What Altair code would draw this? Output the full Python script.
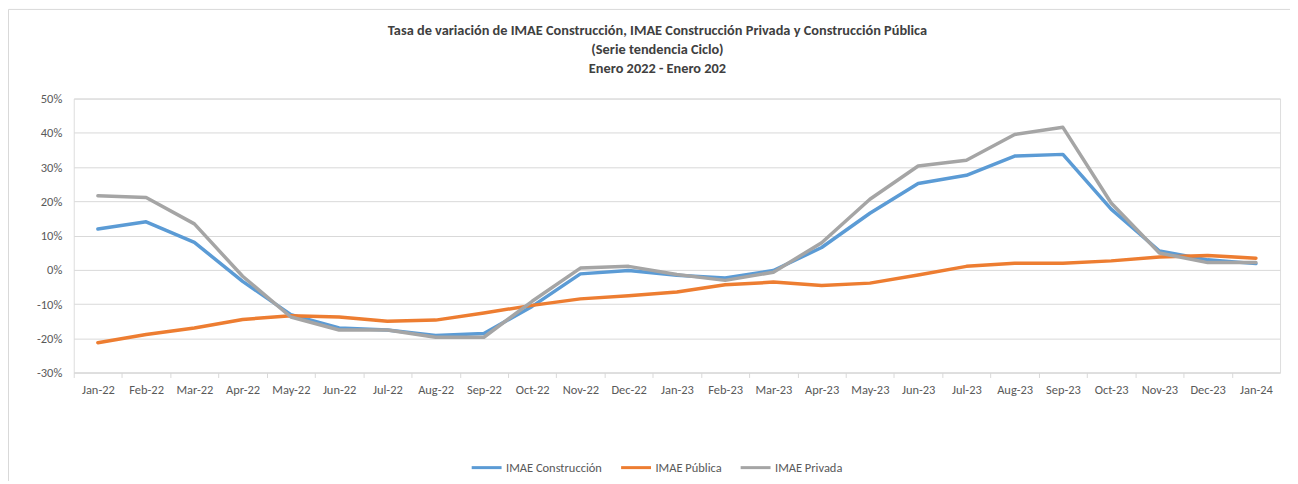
import altair as alt
import pandas as pd

months = ["Jan-22", "Feb-22", "Mar-22", "Apr-22", "May-22", "Jun-22", "Jul-22", "Aug-22",
          "Sep-22", "Oct-22", "Nov-22", "Dec-22", "Jan-23", "Feb-23", "Mar-23", "Apr-23",
          "May-23", "Jun-23", "Jul-23", "Aug-23", "Sep-23", "Oct-23", "Nov-23", "Dec-23", "Jan-24"]

construccion = [11.9, 14.0, 8.0, -3.4, -13.1, -17.0, -17.6, -19.2, -18.6, -10.7, -1.2, -0.2,
                -1.6, -2.4, -0.2, 6.5, 16.5, 25.2, 27.6, 33.2, 33.7, 17.7, 5.5, 2.9, 1.8]
publica = [-21.3, -18.9, -17.0, -14.5, -13.4, -13.8, -15.0, -14.7, -12.6, -10.4, -8.5, -7.6,
           -6.5, -4.4, -3.6, -4.6, -3.9, -1.5, 1.0, 1.9, 1.9, 2.6, 3.7, 4.2, 3.4]
privada = [21.6, 21.1, 13.4, -1.9, -13.8, -17.6, -17.6, -19.7, -19.7, -9.2, 0.5, 1.0,
           -1.4, -3.1, -0.7, 7.9, 20.6, 30.3, 32.0, 39.5, 41.6, 19.5, 4.9, 2.1, 2.1]

series_names = ["IMAE Construcción", "IMAE Pública", "IMAE Privada"]
series_colors = ["#5B9BD5", "#ED7D31", "#A5A5A5"]
y_ticks = [-30, -20, -10, 0, 10, 20, 30, 40, 50]

title_lines = ["Tasa de variación de IMAE Construcción, IMAE Construcción Privada y Construcción Pública",
               "(Serie tendencia Ciclo)",
               "Enero 2022 - Enero 202"]

rows = []
for name, vals in zip(series_names, [construccion, publica, privada]):
    for m, v in zip(months, vals):
        rows.append({"mes": m, "valor": v, "serie": name})
df = pd.DataFrame(rows)

FONT = "Carlito, Calibri, Liberation Sans, sans-serif"
W, H = 1211, 275
half_step = W / len(months) / 2
FS = 12.5

lines = alt.Chart(df).mark_line(strokeWidth=3.5, strokeJoin="round", strokeCap="round").encode(
    x=alt.X("mes:N", sort=months, title=None,
            scale=alt.Scale(type="point", padding=0.5),
            axis=alt.Axis(labelAngle=0, labelFontSize=FS, labelColor="#595959", labelFont=FONT,
                          tickColor="#D9D9D9", tickSize=5, domainColor="#D9D9D9",
                          tickOffset=-half_step, labelOffset=half_step, labelPadding=6,
                          grid=False, labelOverlap=False)),
    y=alt.Y("valor:Q", title=None, scale=alt.Scale(domain=[-30, 50], nice=False),
            axis=alt.Axis(values=y_ticks, labelExpr="datum.value + '%'", labelFontSize=FS,
                          labelColor="#595959", labelFont=FONT, ticks=False, tickSize=0,
                          domain=False, gridColor="#D9D9D9", labelPadding=12)),
    color=alt.Color("serie:N", sort=series_names,
                    scale=alt.Scale(domain=series_names, range=series_colors),
                    legend=alt.Legend(title=None, orient="none", legendX=398, legendY=354,
                                      direction="horizontal", symbolType="stroke", symbolSize=900,
                                      symbolStrokeWidth=3, labelOffset=3, columnPadding=12,
                                      labelFontSize=FS, labelColor="#595959", labelFont=FONT)),
)

border = alt.Chart(pd.DataFrame({"a": [0]})).mark_rect(
    filled=False, stroke="#D9D9D9", strokeWidth=1
).encode(x=alt.value(-65.5), y=alt.value(-89.5), x2=alt.value(W + 200), y2=alt.value(H + 300))

chart = alt.layer(border, lines).properties(
    width=W, height=H,
    title=alt.TitleParams(text=title_lines, fontSize=14.4, fontWeight="bold", color="#404040",
                          font=FONT, anchor="middle", dx=-19.5, dy=89.5, offset=22, lineHeight=19),
    autosize=alt.AutoSizeParams(type="none"),
    padding={"left": 66, "top": 90, "right": 10, "bottom": 108},
).configure_view(stroke=None).configure(background="white")

chart.save("out.html", embed_options={"renderer": "svg", "actions": False})
